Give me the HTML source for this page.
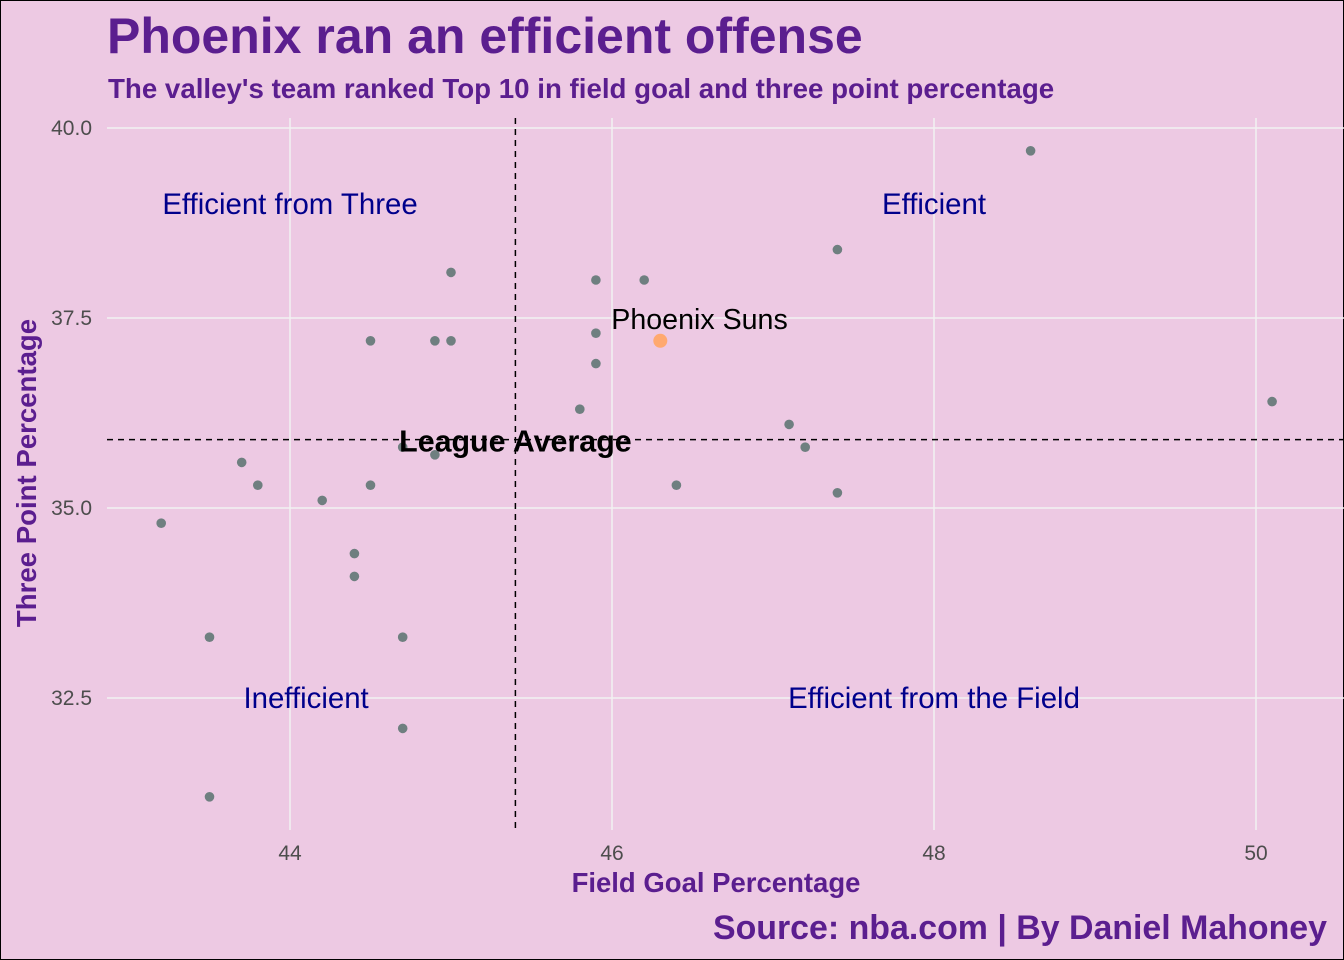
<!DOCTYPE html>
<html><head><meta charset="utf-8"><style>
html,body{margin:0;padding:0;background:#EDC9E3;}
svg{display:block;font-family:"Liberation Sans",sans-serif;}
</style></head><body>
<svg id="chart" width="1344" height="960">
<rect x="0.5" y="0.5" width="1343" height="959" fill="#EDC9E3" stroke="#000"/>
<g id="grid"></g><g id="marks"></g>
<text x="107" y="53" font-size="50" font-weight="bold" fill="#5B1E8F">Phoenix ran an efficient offense</text>
<text x="108" y="98" font-size="27.7" font-weight="bold" fill="#5B1E8F">The valley's team ranked Top 10 in field goal and three point percentage</text>
<text x="716" y="892" font-size="27.5" font-weight="bold" fill="#5B1E8F" text-anchor="middle">Field Goal Percentage</text>
<text transform="translate(36,473) rotate(-90)" font-size="27.6" font-weight="bold" fill="#5B1E8F" text-anchor="middle">Three Point Percentage</text>
<text x="1327" y="939" font-size="33.9" font-weight="bold" fill="#5B1E8F" text-anchor="end">Source: nba.com | By Daniel Mahoney</text>
</svg>
<script>
const fgPct=[43.2,43.5,43.5,43.7,43.8,44.2,44.4,44.4,44.5,44.5,44.7,44.7,44.7,44.9,44.9,45.0,45.0,45.8,45.9,45.9,45.9,46.2,46.4,47.1,47.2,47.4,47.4,48.6,50.1];
const threePct=[34.8,33.3,31.2,35.6,35.3,35.1,34.4,34.1,37.2,35.3,33.3,32.1,35.8,37.2,35.7,38.1,37.2,36.3,38.0,37.3,36.9,38.0,35.3,36.1,35.8,38.4,35.2,39.7,36.4];
const phoenix=[46.3,37.2];
const avgFg=45.4, avgThree=35.9;
const xTicks=[44,46,48,50];
const yTicks=[32.5,35.0,37.5,40.0];
const quadrantLabels=["Efficient from Three","Efficient","Inefficient","Efficient from the Field"];
const quadrantPos=[[44,39],[48,39],[44.1,32.5],[48,32.5]];
const NS="http://www.w3.org/2000/svg";
const X=v=>290+(v-44)*161, Y=v=>128+(40-v)*76;
const L=107,R=1344,T=118,B=830;
function mk(p,tag,a,txt){const e=document.createElementNS(NS,tag);for(const k in a)e.setAttribute(k,a[k]);if(txt!==undefined)e.textContent=txt;p.appendChild(e);return e;}
const g=document.getElementById('grid'),m=document.getElementById('marks');
xTicks.forEach(t=>{
 const l=mk(g,'line',{x1:X(t),x2:X(t),y1:T,y2:B,stroke:'#F2F2F2','stroke-width':1.5});
 
 const tx=mk(g,'text',{x:X(t),y:860,'font-size':21,fill:'#4D4D4D','text-anchor':'middle'},String(t));
 
});
yTicks.forEach(t=>{
 const l=mk(g,'line',{x1:L,x2:R,y1:Y(t),y2:Y(t),stroke:'#F2F2F2','stroke-width':1.5});
 
 const tx=mk(g,'text',{x:92,y:Y(t)+7,'font-size':21,fill:'#4D4D4D','text-anchor':'end'},t.toFixed(1));
 
});
const vl=mk(m,'line',{x1:X(avgFg),x2:X(avgFg),y1:T,y2:B,stroke:'#000','stroke-width':1.5,'stroke-dasharray':'6,5'});

const hl=mk(m,'line',{x1:L,x2:R,y1:Y(avgThree),y2:Y(avgThree),stroke:'#000','stroke-width':1.5,'stroke-dasharray':'6,5'});

fgPct.forEach((v,i)=>{
 const c=mk(m,'circle',{cx:X(v),cy:Y(threePct[i]),r:4.8,fill:'#6F7F80'});
 
});
const pc=mk(m,'circle',{cx:X(phoenix[0]),cy:Y(phoenix[1]),r:7,fill:'#FFA970'});

const pl=mk(m,'text',{x:X(phoenix[0])-49,y:Y(phoenix[1])-12,'font-size':28.6,fill:'#000'},'Phoenix Suns');

const la=mk(m,'text',{x:X(avgFg),y:Y(avgThree)+12,'font-size':30.4,'font-weight':'bold',fill:'#000','text-anchor':'middle'},'League Average');

quadrantLabels.forEach((s,i)=>{
 const t=mk(m,'text',{x:X(quadrantPos[i][0]),y:Y(quadrantPos[i][1])+10,'font-size':29.4,fill:'#00008B','text-anchor':'middle'},s);
 
});
</script>
</body></html>
